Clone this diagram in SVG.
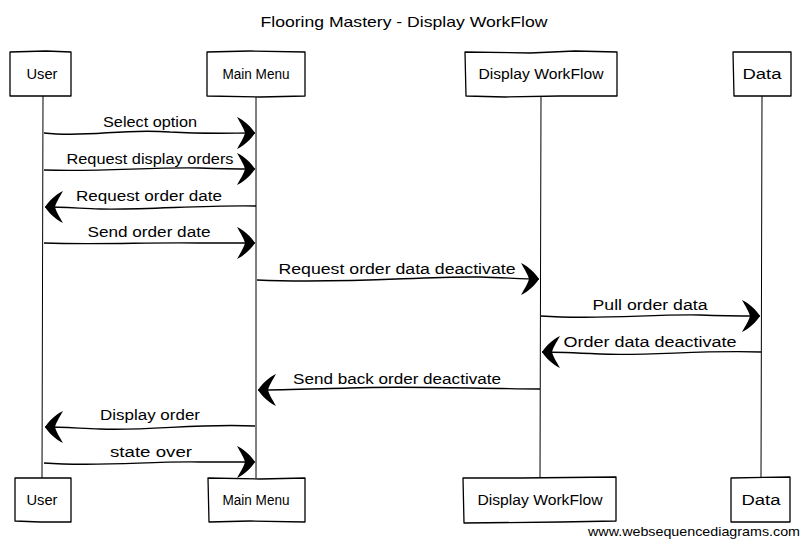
<svg xmlns="http://www.w3.org/2000/svg" width="809" height="546" viewBox="0 0 809 546">
<style>
.box{fill:#fff;stroke:#000;stroke-width:1.3;stroke-linejoin:round}
.life{fill:none;stroke:#000;stroke-width:1}
.msg{fill:none;stroke:#000;stroke-width:1.4;marker-end:url(#ah)}
.t{font-family:"Liberation Sans","DejaVu Sans",sans-serif;font-size:14px;fill:#000;text-anchor:middle}
.title{font-family:"Liberation Sans","DejaVu Sans",sans-serif;font-size:15px;fill:#000;text-anchor:middle}
.wm{font-family:"Liberation Sans",Arial,sans-serif;font-size:13px;fill:#000}
</style>
<defs>
<marker id="ah" markerUnits="userSpaceOnUse" viewBox="-20 -18 22 36" refX="0" refY="0" markerWidth="22" markerHeight="36" orient="auto">
<path d="M0,0 C-4,-6 -10,-12 -18,-16 C-14,-9 -11,-4 -10,0 C-11,4 -14,9 -18,16 C-10,12 -4,6 0,0 Z" fill="#000"/>
</marker>
</defs>
<rect width="809" height="546" fill="#fff"/>
<text class="title" x="404" y="27" textLength="287" lengthAdjust="spacingAndGlyphs">Flooring Mastery - Display WorkFlow</text>
<g id="lifelines">
<path class="life" d="M43,96 L42,478"/>
<path class="life" d="M256,96 L256,478"/>
<path class="life" d="M541,96 L540,478"/>
<path class="life" d="M762,96 L761,478"/>
</g>
<g id="user-top"><path class="box" d="M10,52 L46,51 L71,52 L71,96 L40,96 L10,96 Z"/><text class="t" x="42" y="79" textLength="31" lengthAdjust="spacingAndGlyphs">User</text></g>
<g id="mainmenu-top"><path class="box" d="M207,52 L250,51 L305,52 L305,96 L260,97 L207,96 Z"/><text class="t" x="256" y="79" textLength="67" lengthAdjust="spacingAndGlyphs">Main Menu</text></g>
<g id="display-top"><path class="box" d="M465,52 L530,53 L575,51 L617,52 L617,96 L560,96 L505,97 L466,96 Z"/><text class="t" x="541" y="79" textLength="125" lengthAdjust="spacingAndGlyphs">Display WorkFlow</text></g>
<g id="data-top"><path class="box" d="M733,52 L791,52 L791,96 L762,96 L734,96 Z"/><text class="t" x="762" y="79" textLength="39" lengthAdjust="spacingAndGlyphs">Data</text></g>
<g id="user-bottom"><path class="box" d="M15,478 L71,478 L71,522 L40,522 L15,521 Z"/><text class="t" x="42" y="505" textLength="31" lengthAdjust="spacingAndGlyphs">User</text></g>
<g id="mainmenu-bottom"><path class="box" d="M208,478 L260,479 L305,478 L305,522 L250,521 L209,522 Z"/><text class="t" x="256" y="505" textLength="67" lengthAdjust="spacingAndGlyphs">Main Menu</text></g>
<g id="display-bottom"><path class="box" d="M463,478 L520,478 L616,477 L616,521 L560,522 L464,523 Z"/><text class="t" x="540" y="505" textLength="125" lengthAdjust="spacingAndGlyphs">Display WorkFlow</text></g>
<g id="data-bottom"><path class="box" d="M731,478 L790,477 L790,522 L760,522 L731,522 Z"/><text class="t" x="761" y="505" textLength="39" lengthAdjust="spacingAndGlyphs">Data</text></g>
<g id="connectors">
<path class="msg" d="M44,133 C90,138 120,128 170,132 C205,134 230,133 255,133"/>
<path class="msg" d="M44,170 C100,172 150,167 200,168 C225,169 240,169 255,169"/>
<path class="msg" d="M256,206 C200,205 150,210 100,209 C75,208 60,207 45,207"/>
<path class="msg" d="M44,243 C100,245 150,242 200,243 C225,243 240,243 255,243"/>
<path class="msg" d="M257,280 C350,284 420,276 480,277 C510,278 525,279 539,279"/>
<path class="msg" d="M541,316 C600,320 650,314 700,315 C725,316 745,316 760,316"/>
<path class="msg" d="M761,352 C700,350 650,356 600,354 C580,353 560,352 542,352"/>
<path class="msg" d="M540,389 C450,388 400,386 350,388 C310,389 280,390 258,390"/>
<path class="msg" d="M255,426 C200,423 150,431 100,429 C75,428 60,427 45,427"/>
<path class="msg" d="M44,463 C100,467 150,461 200,462 C225,462 240,462 255,462"/>
</g>
<g id="labels">
<text class="t" x="150" y="127" textLength="94" lengthAdjust="spacingAndGlyphs">Select option</text>
<text class="t" x="150" y="164" textLength="167" lengthAdjust="spacingAndGlyphs">Request display orders</text>
<text class="t" x="149" y="201" textLength="146" lengthAdjust="spacingAndGlyphs">Request order date</text>
<text class="t" x="149" y="237" textLength="123" lengthAdjust="spacingAndGlyphs">Send order date</text>
<text class="t" x="397" y="274" textLength="237" lengthAdjust="spacingAndGlyphs">Request order data deactivate</text>
<text class="t" x="650" y="310" textLength="115" lengthAdjust="spacingAndGlyphs">Pull order data</text>
<text class="t" x="650" y="347" textLength="173" lengthAdjust="spacingAndGlyphs">Order data deactivate</text>
<text class="t" x="397" y="384" textLength="208" lengthAdjust="spacingAndGlyphs">Send back order deactivate</text>
<text class="t" x="150" y="420" textLength="100" lengthAdjust="spacingAndGlyphs">Display order</text>
<text class="t" x="151" y="457" textLength="82" lengthAdjust="spacingAndGlyphs">state over</text>
</g>
<text class="wm" x="588" y="536" textLength="212" lengthAdjust="spacingAndGlyphs">www.websequencediagrams.com</text>
</svg>
